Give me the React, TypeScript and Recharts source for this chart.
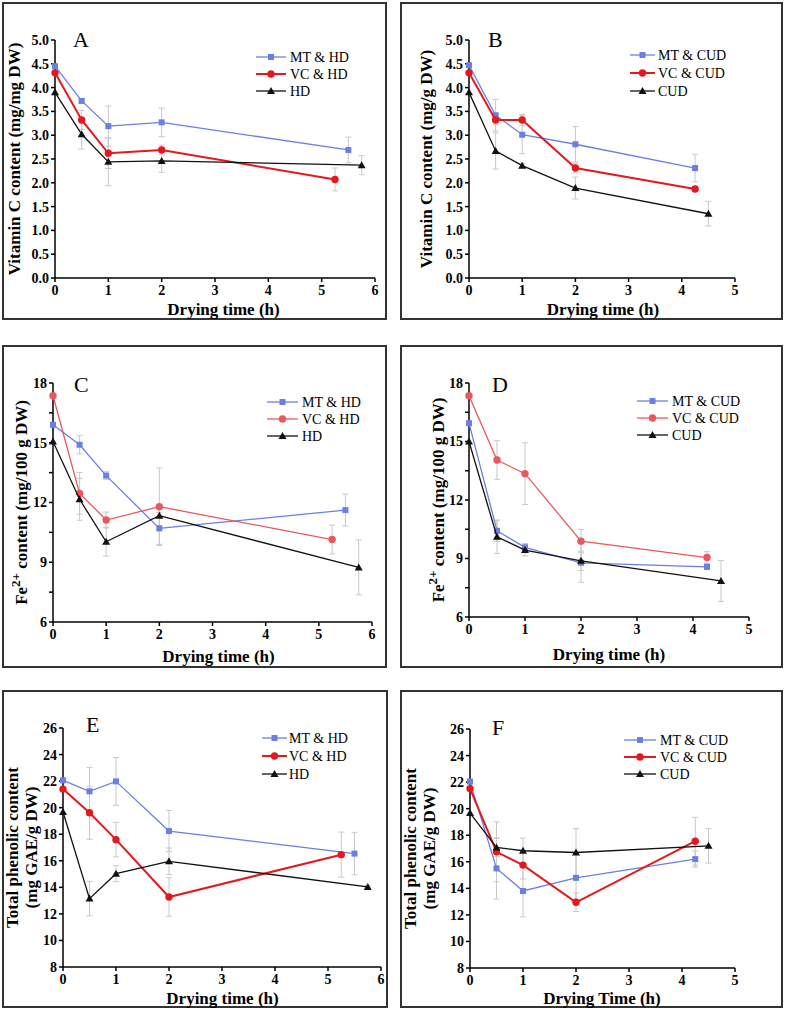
import React from 'react';
import { ScatterChart, Scatter, XAxis, YAxis, ErrorBar, Legend } from 'recharts';

const FONT = '"Liberation Serif", "Times New Roman", Times, serif';
const BLUE = '#6b7fe3';
const RED = '#e3191e';
const RED_SOFT = '#e8585d';
const BLACK = '#111111';
const ERR = '#c8c8c8';

// drying times (h)
const hdTimesMT = [0, 0.5, 1, 2, 5.5];
const hdTimesVC = [0, 0.5, 1, 2, 5.25];
const hdTimesHD = [0, 0.5, 1, 2, 5.75];
const cudTimesMT = [0, 0.5, 1, 2, 4.25];
const cudTimesVC = [0, 0.5, 1, 2, 4.25];
const cudTimesCUD = [0, 0.5, 1, 2, 4.5];

// axis ticks
const xTicksHD = [0, 1, 2, 3, 4, 5, 6];
const xTicksCUD = [0, 1, 2, 3, 4, 5];
const vcTicks = [0, 0.5, 1, 1.5, 2, 2.5, 3, 3.5, 4, 4.5, 5];
const feTicks = [6, 7.5, 9, 10.5, 12, 13.5, 15, 16.5, 18];
const tpcTicks = [8, 10, 12, 14, 16, 18, 20, 22, 24, 26];

// A - vitamin C, HD
const vcHdMT = [4.45, 3.72, 3.19, 3.27, 2.69];
const vcHdMTErr = [0, 0.05, 0.42, 0.3, 0.27];
const vcHdVC = [4.31, 3.32, 2.62, 2.69, 2.07];
const vcHdVCErr = [0, 0.2, 0.32, 0.1, 0.24];
const vcHdHD = [3.9, 3.02, 2.44, 2.46, 2.37];
const vcHdHDErr = [0, 0.31, 0.5, 0.24, 0.2];

// B - vitamin C, CUD
const vcCudMT = [4.47, 3.42, 3.01, 2.81, 2.31];
const vcCudMTErr = [0, 0.33, 0.4, 0.37, 0.29];
const vcCudVC = [4.31, 3.32, 3.32, 2.31, 1.87];
const vcCudVCErr = [0, 0.1, 0.12, 0.1, 0.05];
const vcCudCUD = [3.9, 2.67, 2.36, 1.89, 1.35];
const vcCudCUDErr = [0, 0.38, 0.05, 0.23, 0.26];

// C - Fe2+, HD
const feHdMT = [15.9, 14.9, 13.35, 10.7, 11.62];
const feHdMTErr = [0, 0.45, 0.2, 0.8, 0.8];
const feHdVC = [17.36, 12.46, 11.12, 11.79, 10.14];
const feHdVCErr = [0, 1.05, 0.4, 1.95, 0.72];
const feHdHD = [15.06, 12.16, 10.03, 11.34, 8.74];
const feHdHDErr = [0, 1.05, 0.72, 0.5, 1.38];

// D - Fe2+, CUD
const feCudMT = [15.94, 10.42, 9.57, 8.78, 8.57];
const feCudMTErr = [0, 0.55, 0.2, 1.0, 0.1];
const feCudVC = [17.35, 14.05, 13.35, 9.89, 9.05];
const feCudVCErr = [0, 0.99, 1.58, 0.6, 0.3];
const feCudCUD = [15.0, 10.11, 9.43, 8.88, 7.85];
const feCudCUDErr = [0, 0.85, 0.3, 0.5, 1.05];

// E - total phenolics, HD
const tpcHdMT = [22.06, 21.23, 21.98, 18.24, 16.54];
const tpcHdMTErr = [0, 1.8, 1.8, 1.55, 1.6];
const tpcHdVC = [21.4, 19.62, 17.59, 13.27, 16.46];
const tpcHdVCErr = [0, 2.0, 1.3, 1.45, 1.7];
const tpcHdHD = [19.67, 13.15, 15.03, 15.96, 14.03];
const tpcHdHDErr = [0, 1.3, 0.6, 1.0, 0.1];

// F - total phenolics, CUD
const tpcCudMT = [22.04, 15.5, 13.8, 14.79, 16.2];
const tpcCudMTErr = [0, 2.3, 1.95, 1.8, 0.6];
const tpcCudVC = [21.51, 16.75, 15.75, 12.95, 17.55];
const tpcCudVCErr = [0, 2.25, 1.05, 0.7, 1.8];
const tpcCudCUD = [19.67, 17.08, 16.83, 16.7, 17.2];
const tpcCudCUDErr = [0, 0.7, 0.95, 1.8, 1.3];

const pts = (xs: number[], ys: number[], errs: number[]) =>
  xs.map((x, i) => ({ x, y: ys[i], err: errs[i] }));

type MarkerKind = 'square' | 'circle' | 'triangle';

const Marker = ({ kind, cx, cy, color }: { kind: MarkerKind; cx: number; cy: number; color: string }) => {
  if (kind === 'square') return <rect x={cx - 3} y={cy - 3} width={6} height={6} fill={color} />;
  if (kind === 'circle') return <circle cx={cx} cy={cy} r={3.7} fill={color} />;
  return <path d={`M${cx},${cy - 4}L${cx + 4},${cy + 3}L${cx - 4},${cy + 3}Z`} fill={color} />;
};

const makeSeries = (names: string[], red: string, redW: number, a: any[], b: any[], c: any[]) => [
  { name: names[0], color: BLUE, kind: 'square' as MarkerKind, width: 1.3, data: a },
  { name: names[1], color: red, kind: 'circle' as MarkerKind, width: redW, data: b },
  { name: names[2], color: BLACK, kind: 'triangle' as MarkerKind, width: 1.3, data: c },
];

const hdNames = ['MT & HD', 'VC & HD', 'HD'];
const cudNames = ['MT & CUD', 'VC & CUD', 'CUD'];

const feTitle = (
  <>
    Fe<tspan dy={-6} fontSize={13}>2+</tspan>
    <tspan dy={6}> content (mg/100 g DW)</tspan>
  </>
);

const panels = [
  {
    letter: 'A', letterPos: [71, 45],
    box: { x: 2, y: 2, w: 385, h: 318 }, m: { left: 53, top: 38, right: 12, bottom: 42 },
    xMax: 6, xTicks: xTicksHD, yDomain: [0, 5], yTicks: vcTicks, fmt: (v: number) => v.toFixed(1),
    yTitle: [{ text: 'Vitamin C content (mg/mg DW)', x: 12 }], xTitle: { text: 'Drying time (h)', x: 221.5, y: 313 },
    legend: { x1: 254, x2: 284, tx: 288, y: 55, dy: 17 },
    series: makeSeries(hdNames, RED, 2, pts(hdTimesMT, vcHdMT, vcHdMTErr), pts(hdTimesVC, vcHdVC, vcHdVCErr), pts(hdTimesHD, vcHdHD, vcHdHDErr)),
  },
  {
    letter: 'B', letterPos: [88, 45],
    box: { x: 400, y: 2, w: 383, h: 318 }, m: { left: 69, top: 38, right: 48, bottom: 42 },
    xMax: 5, xTicks: xTicksCUD, yDomain: [0, 5], yTicks: vcTicks, fmt: (v: number) => v.toFixed(1),
    yTitle: [{ text: 'Vitamin C content (mg/g DW)', x: 26 }], xTitle: { text: 'Drying time (h)', x: 203, y: 313 },
    legend: { x1: 230, x2: 255, tx: 258, y: 53, dy: 18 },
    series: makeSeries(cudNames, RED, 2, pts(cudTimesMT, vcCudMT, vcCudMTErr), pts(cudTimesVC, vcCudVC, vcCudVCErr), pts(cudTimesCUD, vcCudCUD, vcCudCUDErr)),
  },
  {
    letter: 'C', letterPos: [72, 47],
    box: { x: 2, y: 345, w: 385, h: 323 }, m: { left: 51, top: 38, right: 15, bottom: 46 },
    xMax: 6, xTicks: xTicksHD, yDomain: [6, 18], yTicks: feTicks, fmt: (v: number) => (v % 3 === 0 ? String(v) : ''),
    yTitle: [{ text: feTitle, x: 19 }], xTitle: { text: 'Drying time (h)', x: 216.5, y: 317 },
    legend: { x1: 265, x2: 296, tx: 300, y: 57, dy: 17 },
    series: makeSeries(hdNames, RED_SOFT, 1.3, pts(hdTimesMT, feHdMT, feHdMTErr), pts(hdTimesVC, feHdVC, feHdVCErr), pts(hdTimesHD, feHdHD, feHdHDErr)),
  },
  {
    letter: 'D', letterPos: [92, 47],
    box: { x: 400, y: 345, w: 383, h: 323 }, m: { left: 69, top: 38, right: 34, bottom: 51 },
    xMax: 5, xTicks: xTicksCUD, yDomain: [6, 18], yTicks: feTicks, fmt: (v: number) => (v % 3 === 0 ? String(v) : ''),
    yTitle: [{ text: feTitle, x: 38 }], xTitle: { text: 'Drying time (h)', x: 209, y: 315 },
    legend: { x1: 237, x2: 268, tx: 272, y: 56, dy: 17 },
    series: makeSeries(cudNames, RED_SOFT, 1.3, pts(cudTimesMT, feCudMT, feCudMTErr), pts(cudTimesVC, feCudVC, feCudVCErr), pts(cudTimesCUD, feCudCUD, feCudCUDErr)),
  },
  {
    letter: 'E', letterPos: [84, 42],
    box: { x: 2, y: 690, w: 386, h: 318 }, m: { left: 61, top: 38, right: 7, bottom: 41 },
    xMax: 6, xTicks: xTicksHD, yDomain: [8, 26], yTicks: tpcTicks, fmt: (v: number) => String(v),
    yTitle: [{ text: 'Total phenolic content', x: 10 }, { text: '(mg GAE/g DW)', x: 29 }], xTitle: { text: 'Drying time (h)', x: 220.5, y: 314 },
    legend: { x1: 260, x2: 285, tx: 287, y: 48, dy: 18 },
    series: makeSeries(hdNames, RED, 2, pts(hdTimesMT, tpcHdMT, tpcHdMTErr), pts(hdTimesVC, tpcHdVC, tpcHdVCErr), pts(hdTimesHD, tpcHdHD, tpcHdHDErr)),
  },
  {
    letter: 'F', letterPos: [92, 45],
    box: { x: 400, y: 690, w: 383, h: 318 }, m: { left: 70, top: 39, right: 48, bottom: 40 },
    xMax: 5, xTicks: xTicksCUD, yDomain: [8, 26], yTicks: tpcTicks, fmt: (v: number) => String(v),
    yTitle: [{ text: 'Total phenolic content', x: 10.5 }, { text: '(mg GAE/g DW)', x: 29.5 }], xTitle: { text: 'Drying Time (h)', x: 202, y: 314 },
    legend: { x1: 224, x2: 256, tx: 260, y: 50, dy: 17 },
    series: makeSeries(cudNames, RED, 2, pts(cudTimesMT, tpcCudMT, tpcCudMTErr), pts(cudTimesVC, tpcCudVC, tpcCudVCErr), pts(cudTimesCUD, tpcCudCUD, tpcCudCUDErr)),
  },
];

const tickStyle = { fill: '#000', fontSize: 14, fontWeight: 700, fontFamily: FONT };
const axisStroke = { stroke: '#000', strokeWidth: 1.5 };

function Panel({ p }: { p: (typeof panels)[number] }) {
  const { box, m } = p;
  const plotH = box.h - m.top - m.bottom;
  const cy = m.top + plotH / 2;

  const legendContent = () => (
    <svg width={box.w} height={box.h} style={{ display: 'block', overflow: 'visible' }}>
      {p.series.map((s, i) => {
        const y = p.legend.y + i * p.legend.dy;
        return (
          <g key={s.name}>
            <line x1={p.legend.x1} x2={p.legend.x2} y1={y} y2={y} stroke={s.color} strokeWidth={s.width} />
            <Marker kind={s.kind} cx={(p.legend.x1 + p.legend.x2) / 2} cy={y} color={s.color} />
            <text x={p.legend.tx} y={y} dominantBaseline="central" fontSize={14} fontFamily={FONT} fill="#000">
              {s.name}
            </text>
          </g>
        );
      })}
      <text x={p.letterPos[0]} y={p.letterPos[1]} fontSize={22} fontFamily={FONT} fill="#000">
        {p.letter}
      </text>
    </svg>
  );

  return (
    <div style={{ position: 'absolute', left: box.x, top: box.y, width: box.w, height: box.h }}>
      <div style={{ position: 'absolute', left: 0, top: 0, width: box.w, height: box.h, border: '2px solid #333', boxSizing: 'border-box' }} />
      <div style={{ position: 'absolute', left: 0, top: 0 }}>
        <ScatterChart width={box.w} height={box.h} margin={{ top: m.top, right: m.right, bottom: 0, left: 0 }}>
          <XAxis
            type="number"
            dataKey="x"
            domain={[0, p.xMax]}
            ticks={p.xTicks}
            interval={0}
            height={m.bottom}
            tickSize={4}
            tickMargin={3}
            axisLine={axisStroke}
            tickLine={axisStroke}
            tick={tickStyle}
            label={() => (
              <text x={p.xTitle.x} y={p.xTitle.y} textAnchor="middle" fontSize={17} fontWeight={700} fontFamily={FONT} fill="#000">
                {p.xTitle.text}
              </text>
            )}
          />
          <YAxis
            type="number"
            dataKey="y"
            domain={p.yDomain}
            ticks={p.yTicks}
            interval={0}
            width={m.left}
            tickSize={4}
            tickMargin={2}
            tickFormatter={p.fmt}
            axisLine={axisStroke}
            tickLine={axisStroke}
            tick={tickStyle}
            label={() => (
              <g>
                {p.yTitle.map((t, i) => (
                  <text
                    key={i}
                    x={t.x}
                    y={cy}
                    transform={`rotate(-90 ${t.x} ${cy})`}
                    textAnchor="middle"
                    dominantBaseline="central"
                    fontSize={17}
                    fontWeight={700}
                    fontFamily={FONT}
                    fill="#000"
                  >
                    {t.text}
                  </text>
                ))}
              </g>
            )}
          />
          <Legend
            layout="vertical"
            align="center"
            verticalAlign="middle"
            content={legendContent}
            wrapperStyle={{ left: 0, top: 0, width: box.w, height: box.h, pointerEvents: 'none' }}
          />
          {p.series.map((s) => (
            <Scatter
              key={s.name}
              name={s.name}
              data={s.data}
              line={{ stroke: s.color, strokeWidth: s.width }}
              lineType="joint"
              isAnimationActive={false}
              shape={(props: any) => <Marker kind={s.kind} cx={props.cx} cy={props.cy} color={s.color} />}
            >
              <ErrorBar dataKey="err" direction="y" width={3} stroke={ERR} strokeWidth={1} />
            </Scatter>
          ))}
        </ScatterChart>
      </div>
    </div>
  );
}

export default function App() {
  return (
    <div style={{ position: 'absolute', left: 0, top: 0, width: 787, height: 1011, background: '#fff' }}>
      {panels.map((p) => (
        <Panel key={p.letter} p={p} />
      ))}
    </div>
  );
}
